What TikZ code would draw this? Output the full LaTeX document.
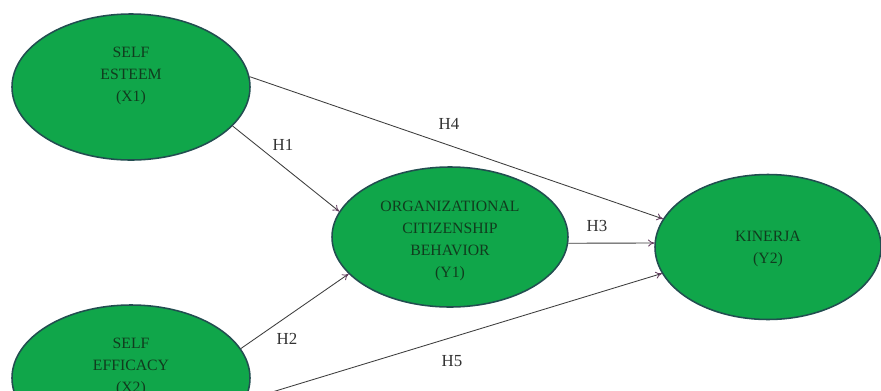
\documentclass[tikz,border=0pt]{standalone}
\usepackage{fontspec}
\setmainfont{Liberation Serif}
\usetikzlibrary{shapes.geometric,arrows.meta,calc}
\definecolor{fillgreen}{RGB}{16,166,74}
\definecolor{rimcol}{RGB}{34,78,80}
\definecolor{txtcol}{RGB}{16,60,30}
\definecolor{linecol}{RGB}{60,60,60}
\definecolor{tipcol}{RGB}{100,60,95}
\tikzset{
  latent/.style={ellipse, draw=rimcol, line width=1.1pt, fill=fillgreen, inner sep=0pt},
  lbl/.style={align=center, text=txtcol, font=\fontsize{11.2}{15.6}\selectfont, inner sep=0pt},
  hyp/.style={text=black!80, font=\fontsize{12}{14}\selectfont, inner sep=1pt},
  path/.style={draw=linecol, line width=0.6pt, -{To[length=4.5pt,width=5pt,color=tipcol]}}
}
\begin{document}
\begin{tikzpicture}[x=0.025cm,y=-0.025cm]
\useasboundingbox (0,0) rectangle (881,390);
\clip (0,0) rectangle (881,390);
\fill[white] (0,0) rectangle (881,390);
% nodes
\node[latent, minimum width=238*0.025cm, minimum height=146*0.025cm] (x1) at (131,87) {};
\node[latent, minimum width=238*0.025cm, minimum height=146*0.025cm] (x2) at (131,378) {};
\node[latent, minimum width=236*0.025cm, minimum height=140*0.025cm] (y1) at (450,237) {};
\node[latent, minimum width=226*0.025cm, minimum height=145*0.025cm] (y2) at (768,247) {};
\node[lbl] (x1t) at ($(x1.center)+(0,-11)$) {SELF\\ESTEEM\\(X1)};
\node[lbl] (x2t) at ($(x2.center)+(0,-11)$) {SELF\\EFFICACY\\(X2)};
\node[lbl] (y1t) at ($(y1.center)+(0,4)$) {ORGANIZATIONAL\\CITIZENSHIP\\BEHAVIOR\\(Y1)};
\node[lbl] (y2t) at ($(y2.center)+(0,2)$) {KINERJA\\(Y2)};
% connectors
\draw[path] (x1.5) -- (y2.165);
\draw[path] (x1.-21) -- (y1.167);
\draw[path] (y1.-3) -- (y2.178);
\draw[path] (x2.15) -- (y1.200);
\draw[path] (x2.-11) -- (y2.194);
% labels
\node[hyp] (h4) at (449,124) {H4};
\node[hyp] (h1) at (283,145) {H1};
\node[hyp] (h3) at (597,226) {H3};
\node[hyp] (h2) at (287,339) {H2};
\node[hyp] (h5) at (452,361) {H5};
\end{tikzpicture}
\end{document}
